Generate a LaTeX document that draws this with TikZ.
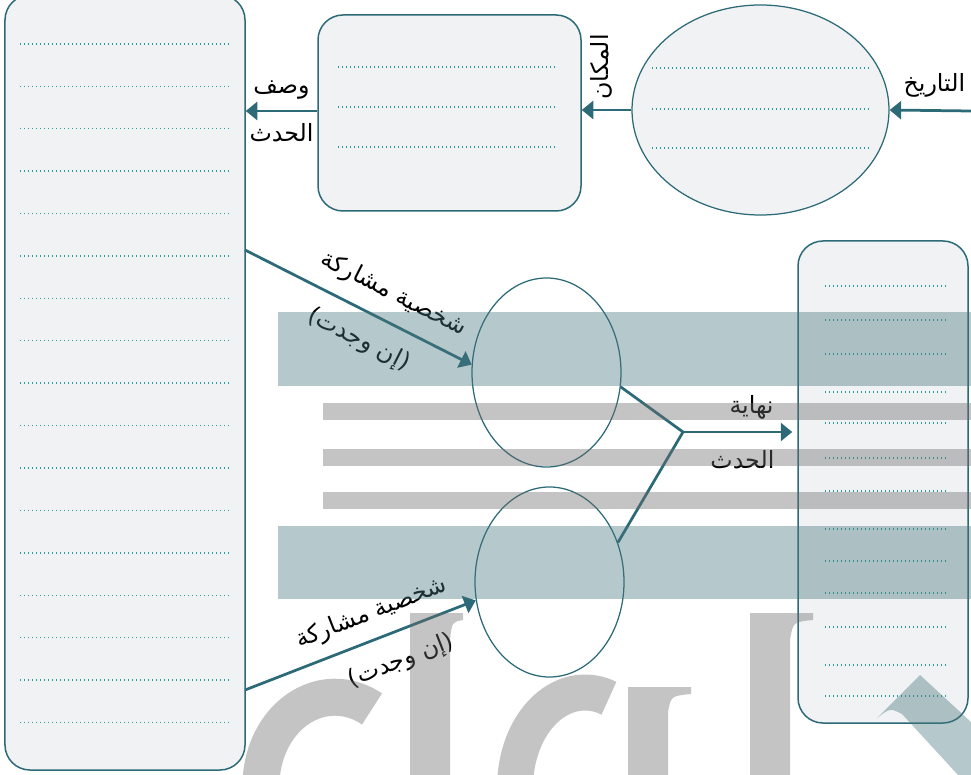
\documentclass[tikz,border=0pt]{standalone}
\usepackage{fontspec}
\usepackage{tikz}
\usetikzlibrary{arrows.meta,shapes.geometric}
\newfontfamily\arabicfont[Script=Arabic]{DejaVu Sans}
\TeXXeTstate=1
\definecolor{wsteal}{HTML}{2D6A78}
\definecolor{wsdot}{HTML}{2A9DA3}
\definecolor{wspaper}{HTML}{F0F2F4}
\definecolor{wsband}{HTML}{46767D}
\definecolor{wsgray}{HTML}{6B6B6B}

\begin{document}
\begin{tikzpicture}[
    x=0.2mm,
    y=-0.2mm,
    panel/.style={rectangle, rounded corners=5mm, draw=wsteal, line width=0.3mm, fill=wspaper, inner sep=0pt},
    bubble/.style={ellipse, draw=wsteal, line width=0.25mm, inner sep=0pt},
    dots/.style={wsdot, line width=0.28mm, dash pattern=on 0.2mm off 0.6mm},
    link/.style={-{Triangle[length=2.3mm,width=3.6mm]}, line width=0.55mm, draw=wsteal},
    lab/.style={font=\fontsize{13.5}{16}\arabicfont, text=black, inner sep=0.5mm},
    band/.style={fill=wsband, fill opacity=0.4},
    stripe/.style={fill=wsgray, fill opacity=0.4}
  ]
    \clip (0,0) rectangle (971,775);

    \node[panel, minimum width=48mm, minimum height=155mm] (story) at (125,382.5) {};
    \node[panel, minimum width=52.6mm, minimum height=39.2mm] (place) at (449.5,113) {};
    \node[bubble, fill=wspaper, minimum width=51.4mm, minimum height=42mm] (datebub) at (760.5,110) {};
    \node[bubble, minimum width=29.8mm, minimum height=37.8mm] (hero) at (546.5,372.5) {};
    \node[bubble, minimum width=29.8mm, minimum height=38mm] (sidekick) at (549.5,582) {};
    \node[panel, minimum width=34mm, minimum height=96.4mm] (ending) at (883,482) {};

    % writing lines
    \foreach \k in {0,...,16}
      \draw[dots] (20,{44+42.4*\k}) -- (232,{44+42.4*\k});
    \foreach \y in {67,107,147}
      \draw[dots] (338,\y) -- (557,\y);
    \foreach \y in {68,109,148}
      \draw[dots] (652,\y) -- (871,\y);
    \foreach \y in {286,320,354,392,423,458,491,529,561,593,627,665,696}
      \draw[dots] (825,\y) -- (948,\y);

    \coordinate (datein) at (971,111);
    \coordinate (storyA) at (245,250);
    \coordinate (storyB) at (245,690);
    \coordinate (join) at (683,432);

    \draw[link] (datein) -- node[lab, above=1.8mm, pos=0.45] {\beginR التاريخ\endR} (datebub.east);
    \draw[link] (datebub.west) -- node[lab, pos=0.6, rotate=90, anchor=west, inner sep=1.8mm] {\beginR المكان\endR} (datebub.west -| place.east);
    \draw[link] (place.west |- datein) -- node[lab, above=1.6mm, pos=0.5] {\beginR وصف\endR} node[lab, below=1.8mm, pos=0.5] {\beginR الحدث\endR} (place.west |- datein -| story.east);
    \draw[link] (storyA) -- node[lab, sloped, above=2.4mm, pos=0.6] {\beginR شخصية مشاركة\endR} node[lab, sloped, below=2.6mm, pos=0.56] {\beginR(إن وجدت)\endR} (hero.174);
    \draw[link] (storyB) -- node[lab, sloped, above=2mm, pos=0.59] {\beginR شخصية مشاركة\endR} node[lab, sloped, below=2.8mm, pos=0.63] {\beginR(إن وجدت)\endR} (sidekick.194);
    \draw[wsteal, line width=0.55mm] (hero.349) -- (join) -- (sidekick.30);
    \draw[link, shorten >=1mm] (join) -- node[lab, above=1.8mm, pos=0.6] {\beginR نهاية\endR} node[lab, below=3mm, pos=0.52] {\beginR الحدث\endR} (join -| ending.west);

    % watermark
    \fill[band] (278,312) rectangle (971,386);
    \fill[band] (278,526) rectangle (971,599);
    \foreach \y in {403,449,492}
      \fill[stripe] (323,\y) rectangle (971,{\y+17});
    \draw[wsgray, draw opacity=0.4, line width=7.4mm] (335,790) ++(160:74) arc[start angle=160, end angle=300, x radius=74, y radius=88];
    \draw[wsgray, draw opacity=0.4, line width=7.2mm] (585,800) ++(150:70) arc[start angle=150, end angle=290, x radius=70, y radius=95];
    \fill[stripe] (410,775) -- (410,613) -- (463,613) -- (463,620) .. controls (452,622) .. (450,640) -- (450,775) -- cycle;
    \fill[stripe] (628,775) -- (628,687) -- (691,687) -- (691,694) .. controls (671,696) .. (668,712) -- (668,775) -- cycle;
    \fill[stripe] (750,775) -- (750,613) -- (813,613) -- (813,620) .. controls (793,622) .. (790,640) -- (790,775) -- cycle;
    \fill[band] (877,718) -- (920,675) -- (971,722) -- (971,775) -- (958,775) -- (902,714) .. controls (890,708) .. (877,718) -- cycle;
\end{tikzpicture}
\end{document}
